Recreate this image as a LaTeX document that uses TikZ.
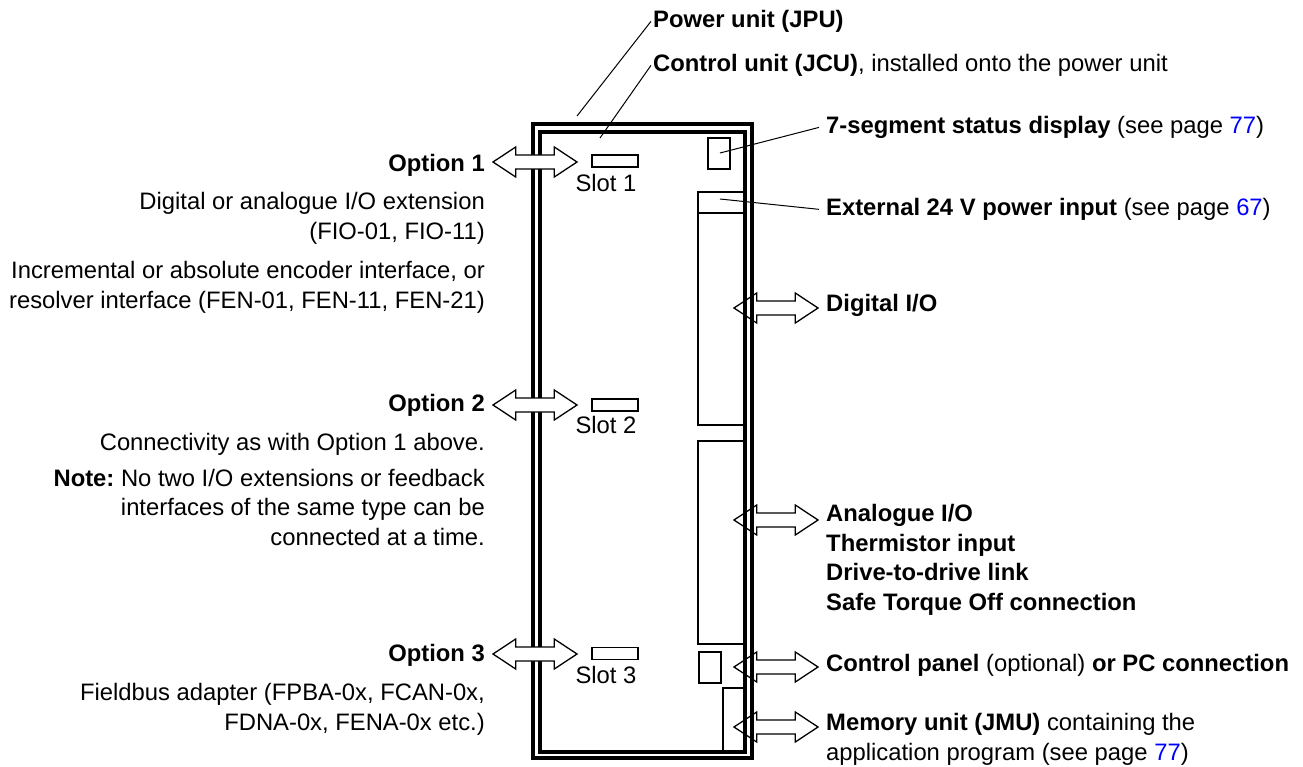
\documentclass[tikz,border=0pt]{standalone}
\usepackage{fontspec}
\setmainfont{Liberation Sans}
\definecolor{pagelink}{RGB}{0,0,255}
\newcommand{\seepg}[1]{(see page \textcolor{pagelink}{#1})}
\frenchspacing

\begin{document}
\begin{tikzpicture}[
    x=1pt, y=-1pt,
    frame/.style = {rectangle, draw, line width=3.2pt, inner sep=0pt},
    part/.style = {rectangle, draw, line width=1.9pt, inner sep=0pt},
    txt/.style = {inner sep=0pt, font=\fontsize{23.8}{29.5}\selectfont},
    lefttxt/.style = {txt, anchor=base east, align=right},
    righttxt/.style = {txt, anchor=base west, align=left, inner xsep=7pt},
    toptxt/.style = {txt, anchor=base west, inner xsep=2pt},
    slottxt/.style = {txt, anchor=base},
    leader/.style = {draw, line width=1pt},
    dblarrow/.pic = {\path [draw, fill=white, line width=1.3pt] (0,0) -- (22.7,-15) -- (22.7,-7) -- (61.3,-7) -- (61.3,-15) -- (84,0) -- (61.3,15) -- (61.3,7) -- (22.7,7) -- (22.7,15) -- cycle;}
]
    \useasboundingbox (0,0) rectangle (1303,767);

    % Arrows on the right side (frame drawn over them)
    \pic at (734,308) {dblarrow};
    \pic at (734,520) {dblarrow};
    \pic at (734,667) {dblarrow};
    \pic at (734,727) {dblarrow};

    % Power unit and control unit outline
    \node [frame, minimum width=219pt, minimum height=634pt] (jpu) at (642.5,441) {};
    \node [frame, minimum width=205pt, minimum height=620pt] (jcu) at (642.5,442) {};

    % Parts on the control unit
    \node [part, minimum width=46pt, minimum height=12pt] (slot1) at (615,161) {};
    \node [part, minimum width=46pt, minimum height=12pt] (slot2) at (615,405) {};
    \node [part, minimum width=46pt, minimum height=12pt] (slot3) at (615,653.5) {};
    \node [part, minimum width=22pt, minimum height=31pt] (segdisp) at (719,153.5) {};
    \node [part, minimum width=47pt, minimum height=21pt] (extcon) at (721.5,202.5) {};
    \node [part, minimum width=47pt, minimum height=212pt] (diocon) at (721.5,319) {};
    \node [part, minimum width=47pt, minimum height=203pt] (aiocon) at (721.5,542.5) {};
    \node [part, minimum width=22pt, minimum height=31pt] (panelcon) at (710,667.5) {};
    \node [part, minimum width=22pt, minimum height=64pt] (jmucon) at (734,720) {};

    % Arrows on the left side (drawn over the frame)
    \pic at (493,162) {dblarrow};
    \pic at (493,405) {dblarrow};
    \pic at (493,654) {dblarrow};

    % Slot labels
    \node [slottxt] (slotlbl1) at (606,191.8) {Slot 1};
    \node [slottxt] (slotlbl2) at (606,433.5) {Slot 2};
    \node [slottxt] (slotlbl3) at (606,683.5) {Slot 3};

    % Left texts (multi-line nodes sit on their last line)
    \node [lefttxt] (opt1) at (485,171.5) {\textbf{Option 1}};
    \node [lefttxt] (fio) at (485,239.5) {Digital or analogue I/O extension\\(FIO-01, FIO-11)};
    \node [lefttxt] (fen) at (485,308) {Incremental or absolute encoder interface, or\\resolver interface (FEN-01, FEN-11, FEN-21)};
    \node [lefttxt] (opt2) at (485,411.5) {\textbf{Option 2}};
    \node [lefttxt] (conn) at (485,450.5) {Connectivity as with Option 1 above.};
    \node [lefttxt] (note) at (485,545) {\textbf{Note:} No two I/O extensions or feedback\\interfaces of the same type can be\\connected at a time.};
    \node [lefttxt] (opt3) at (485,661.5) {\textbf{Option 3}};
    \node [lefttxt] (fba) at (485,730) {Fieldbus adapter (FPBA-0x, FCAN-0x,\\FDNA-0x, FENA-0x etc.)};

    % Top texts
    \node [toptxt] (pwr) at (651,27.5) {\textbf{Power unit (JPU)}};
    \node [toptxt] (ctrl) at (651,71.5) {\textbf{Control unit (JCU)}, installed onto the power unit};

    % Right texts
    \node [righttxt] (seg) at (819,133.5) {\textbf{7-segment status display} \seepg{77}};
    \node [righttxt] (ext) at (819,215.5) {\textbf{External 24 V power input} \seepg{67}};
    \node [righttxt] (dio) at (819,311.5) {\textbf{Digital I/O}};
    \node [righttxt] (aio) at (819,610) {\textbf{Analogue I/O}\\\textbf{Thermistor input}\\\textbf{Drive-to-drive link}\\\textbf{Safe Torque Off connection}};
    \node [righttxt] (panel) at (819,671.5) {\textbf{Control panel} (optional) \textbf{or PC connection}};
    \node [righttxt] (jmu) at (819,760) {\textbf{Memory unit (JMU)} containing the\\application program \seepg{77}};

    % Leader lines
    \coordinate (jpupt) at (577,116);
    \coordinate (jcupt) at (600,138);
    \coordinate (segpt) at (720,153);
    \coordinate (extpt) at (720,199);
    \path [leader] (jpupt) -- (pwr.west);
    \path [leader] (jcupt) -- (ctrl.west);
    \path [leader] (segpt) -- (seg.west);
    \path [leader] (extpt) -- (ext.west);

\end{tikzpicture}
\end{document}
